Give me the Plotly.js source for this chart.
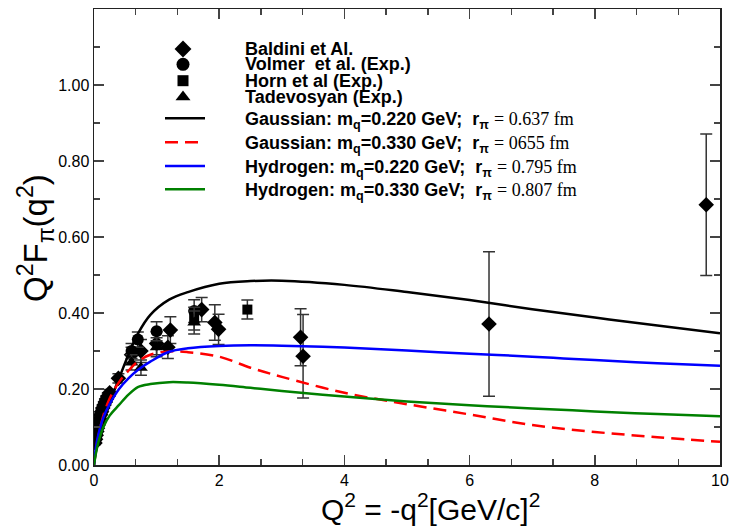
<!DOCTYPE html>
<html>
<head>
<meta charset="utf-8">
<script src="https://cdn.plot.ly/plotly-3.0.1.min.js"></script>
<style>html,body{margin:0;padding:0;background:#fff;}#chart{width:732px;height:531px;}</style>
</head>
<body>
<div id="chart"></div>
<script>
// ---- experimental data ----
const baldiniX = [0.015,0.025,0.035,0.045,0.055,0.065,0.075,0.09,0.105,0.12,0.14,0.16,0.18,0.2,0.22,0.25,0.39,0.6,0.75,1.0,1.18,1.22,1.72,1.93,1.99,3.3,3.34,6.31,9.78];
const baldiniY = [0.058,0.068,0.078,0.088,0.097,0.105,0.112,0.122,0.132,0.14,0.15,0.158,0.166,0.174,0.181,0.19,0.228,0.29,0.30,0.32,0.31,0.355,0.409,0.375,0.357,0.336,0.286,0.371,0.685];
const baldiniErr = [0.004,0.004,0.004,0.004,0.005,0.005,0.005,0.005,0.006,0.006,0.006,0.007,0.007,0.008,0.008,0.009,0.012,0.02,0.03,0.03,0.03,0.035,0.032,0.047,0.04,0.075,0.11,0.19,0.186];

const volmerX = [0.6,0.7,1.0,1.6];
const volmerY = [0.30,0.33,0.352,0.405];
const volmerErr = [0.02,0.02,0.025,0.03];

const hornX = [1.6,2.45];
const hornY = [0.385,0.409];
const hornErr = [0.03,0.025];

const tadX = [0.6,0.75,1.0,1.6];
const tadY = [0.27,0.256,0.31,0.375];
const tadErr = [0.02,0.02,0.025,0.03];

// ---- model curves ----
const curveX = [0,0.03,0.07,0.15,0.25,0.4,0.55,0.7,0.9,1.2,1.5,2,2.5,3,4,5,6,7,8,9,10];
const gauss220 = [0,0.035,0.066,0.115,0.165,0.228,0.29,0.345,0.395,0.435,0.455,0.477,0.484,0.485,0.474,0.455,0.434,0.41,0.388,0.367,0.347];
const gauss330 = [0,0.04,0.075,0.13,0.175,0.218,0.248,0.272,0.29,0.299,0.297,0.285,0.256,0.232,0.19,0.16,0.133,0.105,0.087,0.073,0.061];
const hydro220 = [0,0.045,0.08,0.125,0.16,0.2,0.228,0.25,0.272,0.298,0.307,0.313,0.315,0.314,0.309,0.301,0.293,0.285,0.276,0.268,0.261];
const hydro330 = [0,0.03,0.06,0.1,0.13,0.158,0.185,0.205,0.213,0.218,0.217,0.211,0.203,0.195,0.18,0.167,0.157,0.149,0.141,0.134,0.128];

const yTicks = [0,0.2,0.4,0.6,0.8,1.0];
const xTicks = [0,2,4,6,8,10];

const serif = (t) => "<span style=\"font-family:'Liberation Serif';font-weight:normal\">" + t + "</span>";

const names = [
  "Baldini et Al.",
  "Volmer&nbsp; et al. (Exp.)",
  "Horn et al (Exp.)",
  "Tadevosyan (Exp.)",
  "Gaussian: m<sub>q</sub>=0.220 GeV;&nbsp; r<sub>π</sub> " + serif("= 0.637 fm"),
  "Gaussian: m<sub>q</sub>=0.330 GeV;&nbsp; r<sub>π</sub> " + serif("= 0655 fm"),
  "Hydrogen: m<sub>q</sub>=0.220 GeV;&nbsp; r<sub>π</sub> " + serif("= 0.795 fm"),
  "Hydrogen: m<sub>q</sub>=0.330 GeV;&nbsp; r<sub>π</sub> " + serif("= 0.807 fm")
];
const symbols = ['diamond','circle','square','triangle-up'];
const symSizes = [12,12,10,12];
const lineColors = ['#000000','#ff0000','#0000ff','#008000'];
const lineDashes = ['solid','13px,7px','solid','solid'];

// legend layout (pixel rows in the 732x531 picture)
const PL = 94, PR = 720, PT = 9, PB = 465;
const px2x = (p) => (p - PL) / (PR - PL);
const py2y = (p) => (PB - p) / (PB - PT);
const legRows = [49, 64.3, 80.7, 97, 118.3, 142.3, 166, 189.3];

function pts(x, y, err, i) {
  return {
    x: x, y: y, type: 'scatter', mode: 'markers', name: names[i],
    marker: {symbol: symbols[i], size: symSizes[i], color: '#000'},
    error_y: {type: 'data', array: err, visible: true, color: '#333', thickness: 1.5, width: 6}
  };
}
function line(y, i) {
  return {
    x: curveX, y: y, type: 'scatter', mode: 'lines', name: names[4 + i],
    line: {color: lineColors[i], width: 2.5, dash: lineDashes[i], shape: 'spline'}
  };
}

const data = [
  pts(baldiniX, baldiniY, baldiniErr, 0),
  pts(volmerX, volmerY, volmerErr, 1),
  pts(hornX, hornY, hornErr, 2),
  pts(tadX, tadY, tadErr, 3),
  line(gauss220, 0),
  line(gauss330, 1),
  line(hydro220, 2),
  line(hydro330, 3)
];

// legend symbols on a hidden overlay axis (0..1 over the plot area)
for (let i = 0; i < 4; i++) {
  data.push({
    x: [px2x(183)], y: [py2y(legRows[i])], xaxis: 'x2', yaxis: 'y2',
    type: 'scatter', mode: 'markers', hoverinfo: 'skip',
    marker: {symbol: symbols[i], size: symSizes[i] + 1, color: '#000'}
  });
}
for (let i = 0; i < 4; i++) {
  data.push({
    x: [px2x(165), px2x(205)], y: [py2y(legRows[4 + i]), py2y(legRows[4 + i])], xaxis: 'x2', yaxis: 'y2',
    type: 'scatter', mode: 'lines', hoverinfo: 'skip',
    line: {color: lineColors[i], width: 2.5, dash: lineDashes[i]}
  });
}

const annotations = names.map((t, i) => ({
  text: t, xref: 'paper', yref: 'paper', x: px2x(243), y: py2y(legRows[i] + (i >= 4 ? 2 : 0)),
  xanchor: 'left', yanchor: 'middle', showarrow: false, align: 'left',
  font: {family: 'Liberation Sans, Arial, sans-serif', size: 18, color: '#000', weight: 'bold'}
}));
annotations.push({
  text: 'Q<sup>2</sup> = -q<sup>2</sup>[GeV/c]<sup>2</sup>', xref: 'paper', yref: 'paper',
  x: px2x(430), y: py2y(507), xanchor: 'center', yanchor: 'middle', showarrow: false,
  font: {family: 'Liberation Sans, Arial, sans-serif', size: 30, color: '#000'}
});
annotations.push({
  text: 'Q<sup>2</sup>F<sub>π</sub>(q<sup>2</sup>)', xref: 'paper', yref: 'paper', textangle: -90,
  x: px2x(35), y: py2y(238), xanchor: 'center', yanchor: 'middle', showarrow: false,
  font: {family: 'Liberation Sans, Arial, sans-serif', size: 33, color: '#000'}
});

const axisCommon = {
  showgrid: false, zeroline: false, showline: true, linecolor: '#222', linewidth: 1.5,
  mirror: 'allticks', ticks: 'inside', ticklen: 10, tickwidth: 1.5, tickcolor: '#444',
  tickfont: {family: 'Liberation Sans, Arial, sans-serif', size: 16, color: '#000'}
};

const layout = {
  width: 732, height: 531,
  margin: {l: PL, r: 732 - PR, t: PT, b: 531 - PB},
  paper_bgcolor: '#fff', plot_bgcolor: '#fff',
  showlegend: false,
  annotations: annotations,
  xaxis: Object.assign({}, axisCommon, {
    range: [0, 10], tickvals: xTicks, ticktext: xTicks.map(String),
    minor: {dtick: 2/3, tick0: 0, ticks: 'inside', ticklen: 6, tickwidth: 1.5, tickcolor: '#444'}
  }),
  yaxis: Object.assign({}, axisCommon, {
    range: [0, 1.2], tickvals: yTicks, ticktext: yTicks.map(v => v.toFixed(2)),
    minor: {dtick: 0.1, tick0: 0, ticks: 'inside', ticklen: 6, tickwidth: 1.5, tickcolor: '#444'}
  }),
  xaxis2: {overlaying: 'x', range: [0, 1], visible: false, fixedrange: true},
  yaxis2: {overlaying: 'y', range: [0, 1], visible: false, fixedrange: true}
};

Plotly.newPlot('chart', data, layout, {displayModeBar: false, staticPlot: true});
</script>
</body>
</html>
